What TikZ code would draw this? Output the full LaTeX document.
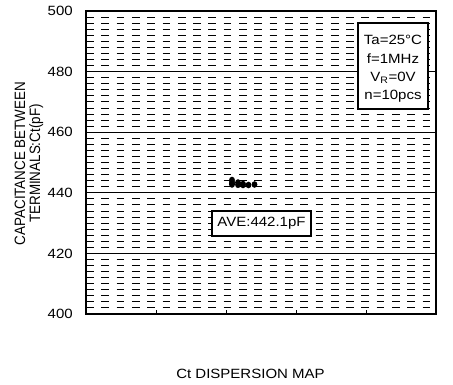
\documentclass[tikz,border=0pt]{standalone}
\usepackage{fontspec}
\setmainfont{Liberation Sans}
\begin{document}
\begin{tikzpicture}[x=1pt,y=-1pt,
  lbl/.style={font=\fontsize{13.4}{15}\selectfont, inner sep=0pt, xscale=1.12},
  dashline/.style={line width=0.9pt, dash pattern=on 7.7pt off 7.6pt},
  gridline/.style={line width=0.9pt},
  boxnode/.style={draw, fill=white, line width=1.2pt, inner sep=0pt},
  dot/.style={fill=black}]
\useasboundingbox (0,0) rectangle (453,385);
% minor dashed grid
\foreach \i in {1,...,49}{%
  \pgfmathtruncatemacro\r{mod(\i,10)}%
  \ifnum\r=0\relax\else
    \draw[dashline] (86,{314-\i*6.06}) -- (436,{314-\i*6.06});
  \fi}
% major grid lines
\foreach \v in {1,2,3,4}{%
  \draw[gridline] (86,{314-\v*60.6}) -- (436,{314-\v*60.6});}
% bottom ticks
\foreach \x in {156,226,296,366}{%
  \draw[line width=0.8pt] (\x,314) -- (\x,310);}
% frame
\draw[line width=2pt] (86,11) rectangle (436,314);
% y tick labels
\foreach \v/\t in {0/400,1/420,2/440,3/460,4/480,5/500}{%
  \node[lbl, anchor=east] (y\t) at (73,{314-\v*60.6}) {\t};}
% axis titles
\node[lbl, rotate=90, align=center, font=\fontsize{13.4}{13.5}\selectfont] (ytitle) at (29,163.5)
  {CAPACITANCE BETWEEN\\TERMINALS:Ct(pF)};
\node[lbl] (title) at (250.5,374) {Ct DISPERSION MAP};
% data points
\foreach \x/\y in {232/180,232/182,232/183.5,232/184.5,238/182.5,238/184.8,243/184,243/185,248.5/185,254.5/184.5}{%
  \fill[dot] (\x,\y) ellipse [x radius=2.9pt, y radius=3.3pt];}
% AVE box
\node[boxnode, minimum width=99pt, minimum height=25pt] (avebox) at (261.5,223.5) {};
\node[lbl] (ave) at (avebox.center) {AVE:442.1pF};
% legend
\node[boxnode, minimum width=70pt, minimum height=86pt] (legend) at (393,66) {};
\node[lbl, anchor=base] (l1) at (393,45) {Ta=25°C};
\node[lbl, anchor=base] (l2) at (393,63.3) {f=1MHz};
\node[lbl, anchor=base] (l3) at (393,81.7) {V\textsubscript{R}=0V};
\node[lbl, anchor=base] (l4) at (393,100) {n=10pcs};
\end{tikzpicture}
\end{document}
